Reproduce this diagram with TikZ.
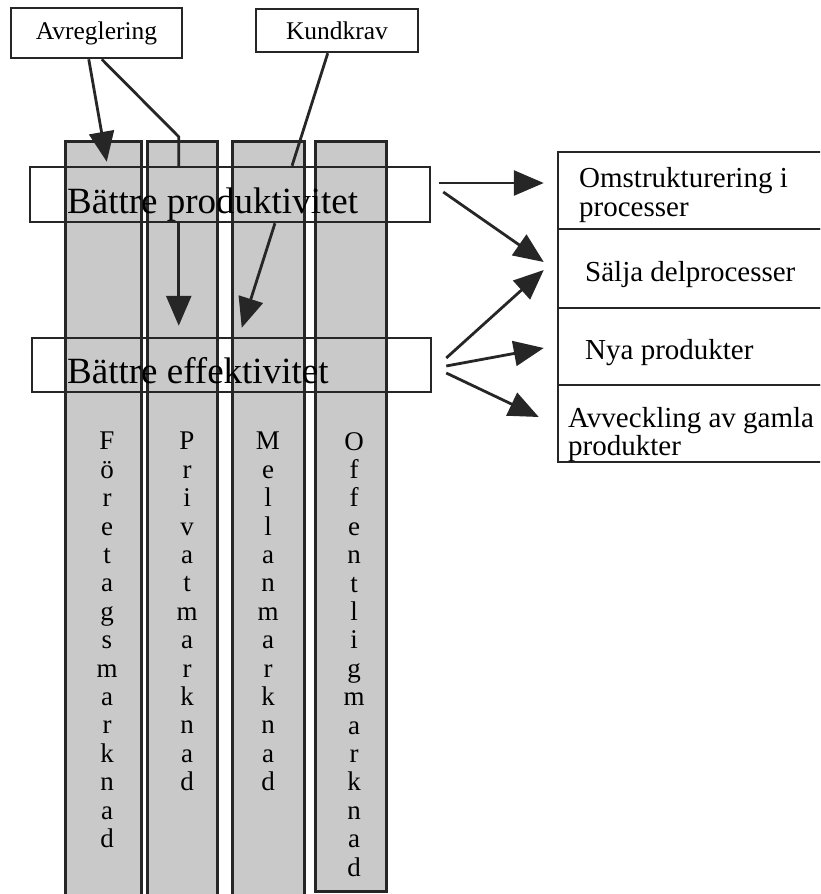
\documentclass[tikz,border=0pt]{standalone}
\usepackage{fontspec}
\setmainfont{Liberation Serif}
\usetikzlibrary{arrows.meta,calc}
\definecolor{ink}{gray}{0.15}
\definecolor{colfill}{gray}{0.79}
\tikzset{
  frame/.style={draw=ink, line width=2.5pt, inner sep=0pt},
  column/.style={draw=ink, fill=colfill, line width=2.5pt, inner sep=0pt, anchor=north west},
  link/.style={draw=ink, line width=2.8pt},
  arr/.style={link, -{Triangle[length=30pt,width=25pt]}},
  letters/.style={align=center, anchor=north, inner sep=0pt, font=\fontsize{27}{28.4}\selectfont},
  label/.style={anchor=base west, inner sep=0pt},
  big/.style={font=\fontsize{37}{40}\selectfont},
  mid/.style={font=\fontsize{29}{29}\selectfont},
  small/.style={font=\fontsize{25.5}{28}\selectfont},
}
\begin{document}
\begin{tikzpicture}[x=1pt,y=-1pt]
\useasboundingbox (0,0) rectangle (820,894);
\clip (0,0) rectangle (820,894);

% market columns
\node[column, minimum width=76pt, minimum height=780pt] (c1) at (64,140) {};
\node[column, minimum width=70pt, minimum height=780pt] (c2) at (146,140) {};
\node[column, minimum width=72pt, minimum height=780pt] (c3) at (231,140) {};
\node[column, minimum width=71pt, minimum height=750pt] (c4) at (314,140) {};

\node[letters] (w1) at (107,432) {F\\ö\\r\\e\\t\\a\\g\\s\\m\\a\\r\\k\\n\\a\\d};
\node[letters] (w2) at (187,432) {P\\r\\i\\v\\a\\t\\m\\a\\r\\k\\n\\a\\d};
\node[letters] (w3) at (268,432) {M\\e\\l\\l\\a\\n\\m\\a\\r\\k\\n\\a\\d};
\node[letters] (w4) at (354,432) {O\\f\\f\\e\\n\\t\\l\\i\\g\\m\\a\\r\\k\\n\\a\\d};

% driver boxes
\node[frame, small, minimum width=171pt, minimum height=50pt] (avr) at (96.5,33) {Avreglering};
\node[frame, small, minimum width=162pt, minimum height=43pt] (kund) at (337,30.5) {Kundkrav};

% horizontal bands across the columns
\node[frame, minimum width=400pt, minimum height=55pt] (prod) at (230,194.5) {};
\node[frame, minimum width=399pt, minimum height=54pt] (eff) at (231.5,365) {};
\node[label, big] (prodtxt) at (67,213) {Bättre produktivitet};
\node[label, big] (efftxt) at (67,383) {Bättre effektivitet};

% outcome boxes
\node[frame, minimum width=272pt, minimum height=77pt] (omst) at (694,190.5) {};
\node[frame, minimum width=272pt, minimum height=79pt] (salja) at (694,268.5) {};
\node[frame, minimum width=272pt, minimum height=77pt] (nya) at (694,346.5) {};
\node[frame, minimum width=272pt, minimum height=77pt] (avv) at (694,423.5) {};
\node[label, mid] (omsttxt) at (579,187) {Omstrukturering i};
\node[label, mid] (omsttxtb) at (579,216) {processer};
\node[label, mid] (saljatxt) at (585,281) {Sälja delprocesser};
\node[label, mid] (nyatxt) at (585,359) {Nya produkter};
\node[label, mid] (avvtxt) at (568,427) {Avveckling av gamla};
\node[label, mid] (avvtxtb) at (568,455) {produkter};

% Avreglering
\draw[arr] ($(avr.south west)+(79,0)$) -- ($(prod.north west)+(78,-4)$);
\draw[link] ($(avr.south west)+(92,0)$) -- ($(prod.north west)+(150,-29)$) -- ($(prod.north west)+(150,0)$);
\draw[arr] ($(prod.south west)+(150,0)$) -- ($(eff.north west)+(148,-11)$);

% Kundkrav
\draw[link] ($(kund.south west)+(73,0)$) -- ($(prod.north west)+(263.3,0)$);
\draw[arr] ($(prod.south west)+(246.2,0)$) -- ($(eff.north west)+(211,-9)$);

% consequences
\draw[arr] ($(prod.east)+(8,-11.5)$) -- ($(omst.west)+(-13,-7.5)$);
\draw[arr] ($(prod.east)+(12,-2.5)$) -- ($(salja.west)+(-13,-6.5)$);
\draw[arr] ($(eff.east)+(14,-7)$) -- ($(salja.west)+(-13,1.5)$);
\draw[arr] ($(eff.east)+(14,1)$) -- ($(nya.west)+(-13,1.5)$);
\draw[arr] ($(eff.east)+(14,8)$) -- ($(avv.west)+(-18,-6.5)$);
\end{tikzpicture}
\end{document}
